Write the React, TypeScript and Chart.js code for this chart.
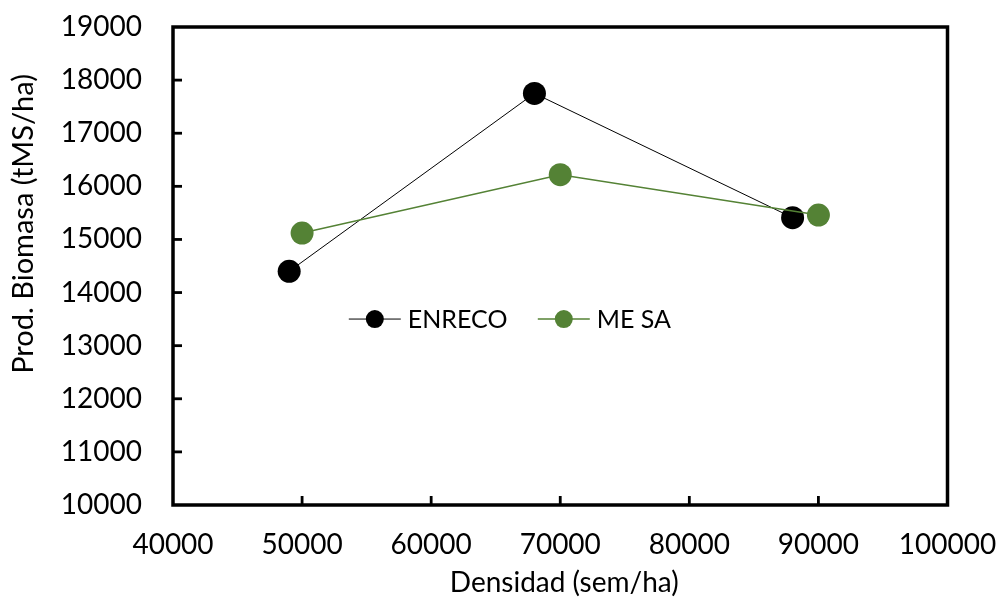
import React, { useEffect, useRef } from "react";
import { Chart, registerables } from "chart.js";

Chart.register(...registerables);

// Plant density (seeds/ha) and biomass yield for each hybrid
const enrecoDensity = [49000, 68000, 88000];
const enrecoBiomass = [14400, 17750, 15410];
const mesaDensity = [50000, 70000, 90000];
const mesaBiomass = [15120, 16220, 15460];

const seriesNames = ["ENRECO", "ME SA"];
const seriesColors = ["#000000", "#548235"];

const xTitle = "Densidad (sem/ha)";
const yTitle = "Prod. Biomasa (tMS/ha)";

const FONT = "Lato, 'Open Sans', sans-serif";
const FONT_SIZE = 28;

// Legend entries start at these fractions of the plot width
const legendStarts = [0.227, 0.471];

// Frame around the plot area, inward tick marks, axis titles and the inset legend
const decorations = {
  id: "decorations",
  beforeDatasetsDraw(chart: any) {
    const { ctx, chartArea } = chart;
    const { left, right, top, bottom } = chartArea;
    const xs = chart.scales.x;
    const ys = chart.scales.y;
    ctx.save();
    ctx.strokeStyle = "#000";
    ctx.lineWidth = 2.8;
    xs.ticks.forEach((t: any) => {
      const px = xs.getPixelForValue(t.value);
      if (px <= left + 2 || px >= right - 2) return;
      ctx.beginPath();
      ctx.moveTo(px, bottom);
      ctx.lineTo(px, bottom - 9);
      ctx.stroke();
    });
    ys.ticks.forEach((t: any) => {
      const py = ys.getPixelForValue(t.value);
      if (py <= top + 2 || py >= bottom - 2) return;
      ctx.beginPath();
      ctx.moveTo(left, py);
      ctx.lineTo(left + 9, py);
      ctx.stroke();
    });
    ctx.lineWidth = 3.5;
    ctx.strokeRect(left, top, right - left, bottom - top);
    ctx.restore();
  },
  afterDraw(chart: any) {
    const { ctx, chartArea } = chart;
    const { left, right, top, bottom } = chartArea;
    const w = right - left;
    const h = bottom - top;
    ctx.save();
    ctx.fillStyle = "#000";
    ctx.font = `${FONT_SIZE}px ${FONT}`;

    // x axis title
    ctx.textAlign = "center";
    ctx.textBaseline = "alphabetic";
    ctx.fillText(xTitle, left + w / 2 + 4, 592);

    // y axis title
    ctx.save();
    ctx.translate(33, top + h * 0.412);
    ctx.rotate(-Math.PI / 2);
    ctx.font = `29px ${FONT}`;
    ctx.fillText(yTitle, 0, 0);
    ctx.restore();

    // legend
    const ly = top + h * 0.611;
    ctx.font = `25px ${FONT}`;
    ctx.textAlign = "left";
    ctx.textBaseline = "middle";
    seriesNames.forEach((name, i) => {
      const lx = left + w * legendStarts[i];
      const color = seriesColors[i];
      ctx.strokeStyle = color;
      ctx.lineWidth = i === 0 ? 1 : 1.5;
      ctx.beginPath();
      ctx.moveTo(lx, ly);
      ctx.lineTo(lx + 52, ly);
      ctx.stroke();
      ctx.fillStyle = color;
      ctx.beginPath();
      ctx.arc(lx + 26, ly, 9, 0, Math.PI * 2);
      ctx.fill();
      ctx.fillStyle = "#000";
      ctx.fillText(name, lx + 59, ly + 1);
    });
    ctx.restore();
  },
};

// Keep tick labels from pushing the plot area inwards
const clearScalePadding = (scale: any) => {
  scale.paddingTop = 0;
  scale.paddingBottom = 0;
  scale.paddingLeft = 0;
  scale.paddingRight = 0;
};

export default function App() {
  const canvasRef = useRef<HTMLCanvasElement | null>(null);

  useEffect(() => {
    const canvas = canvasRef.current;
    if (!canvas) return;
    const chart = new Chart(canvas, {
      type: "line",
      data: {
        datasets: [
          {
            label: seriesNames[0],
            data: enrecoDensity.map((x, i) => ({ x, y: enrecoBiomass[i] })),
            borderColor: seriesColors[0],
            backgroundColor: seriesColors[0],
            borderWidth: 1,
            pointRadius: 11.5,
            pointBorderWidth: 0,
            pointBackgroundColor: seriesColors[0],
            order: 1,
          },
          {
            label: seriesNames[1],
            data: mesaDensity.map((x, i) => ({ x, y: mesaBiomass[i] })),
            borderColor: seriesColors[1],
            backgroundColor: seriesColors[1],
            borderWidth: 1.5,
            pointRadius: 11.5,
            pointBorderWidth: 0,
            pointBackgroundColor: seriesColors[1],
            order: 0,
          },
        ],
      },
      options: {
        responsive: false,
        animation: false,
        devicePixelRatio: 1,
        layout: { padding: { left: 0, top: 27, right: 50.5, bottom: 0 } },
        plugins: {
          legend: { display: false },
          tooltip: { enabled: false },
        },
        scales: {
          x: {
            type: "linear",
            min: 40000,
            max: 100000,
            grid: { display: false, drawTicks: false },
            border: { display: false },
            ticks: {
              stepSize: 10000,
              color: "#000",
              padding: 23,
              font: { family: FONT, size: FONT_SIZE },
              maxRotation: 0,
              callback: (v: any) => String(v),
            },
            afterFit: (scale: any) => {
              scale.height = 97;
              clearScalePadding(scale);
            },
          },
          y: {
            type: "linear",
            min: 10000,
            max: 19000,
            grid: { display: false, drawTicks: false },
            border: { display: false },
            ticks: {
              stepSize: 1000,
              color: "#000",
              padding: 31,
              font: { family: FONT, size: FONT_SIZE },
              callback: (v: any) => String(v),
            },
            afterFit: (scale: any) => {
              scale.width = 173;
              clearScalePadding(scale);
            },
          },
        },
      },
      plugins: [decorations],
    });
    return () => chart.destroy();
  }, []);

  return (
    <div style={{ position: "absolute", left: 0, top: 0, width: 998, height: 602, background: "#fff" }}>
      <canvas ref={canvasRef} width={998} height={602} style={{ display: "block" }} />
    </div>
  );
}
